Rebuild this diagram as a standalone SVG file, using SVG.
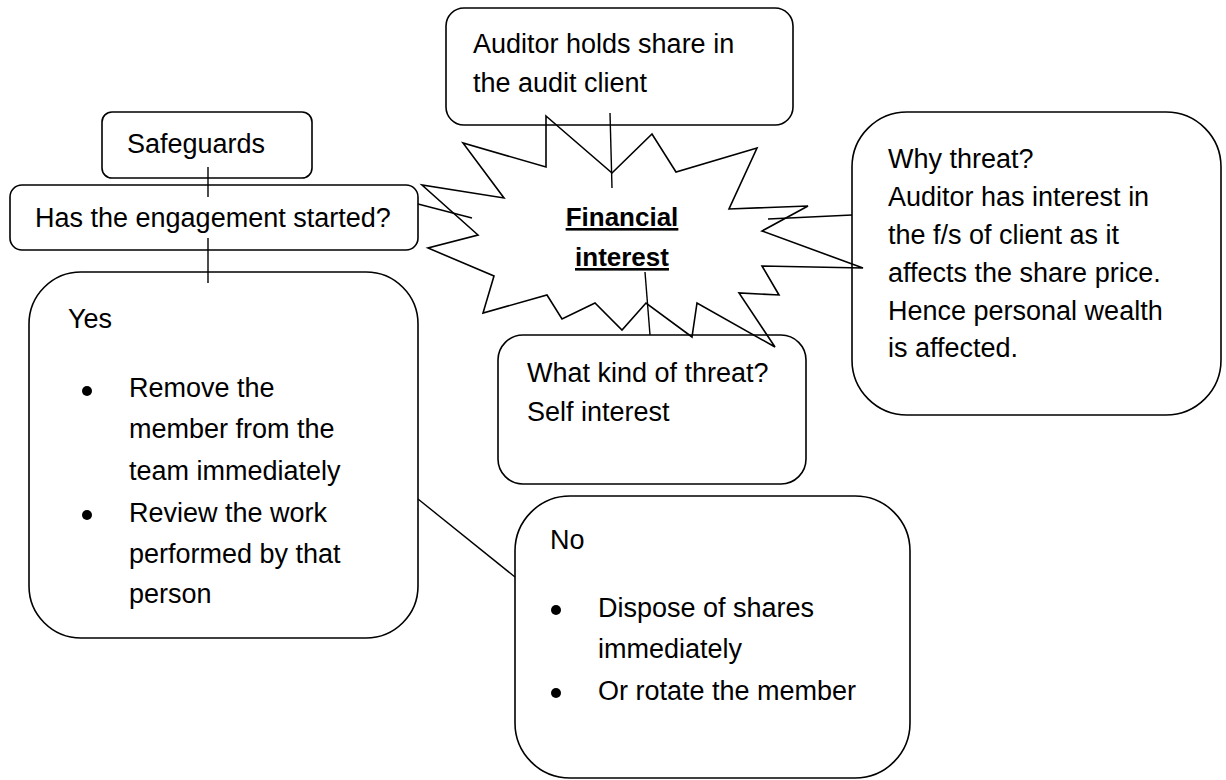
<svg xmlns="http://www.w3.org/2000/svg" width="1226" height="780" viewBox="0 0 1226 780">
  <style>
    .box { fill: none; stroke: #000; stroke-width: 1.6; }
    .burst { fill: none; stroke: #000; stroke-width: 1.6; stroke-linejoin: miter; }
    .link { fill: none; stroke: #000; stroke-width: 1.4; }
    .t { font-family: "Liberation Sans", Arial, sans-serif; font-size: 27px; fill: #000; }
    .title { font-family: "Liberation Sans", Arial, sans-serif; font-size: 26px; font-weight: bold; fill: #000; text-decoration: underline; }
    .dot { fill: #000; }
  </style>
  <rect x="0" y="0" width="1226" height="780" fill="#fff"/>

  <!-- central starburst -->
  <g id="financial-interest">
    <polygon class="burst" points="546,116 612,173 652,134 676,172 757,148 729,209 808,206 762,231 863,268 762,266 779,295 739,293 775,347 697,303 692,337 646,303 622,330 595,303 562,319 547,295 483,313 494,276 428,248 478,235 422,185 504,198 463,143 546,167"/>
    <text class="title" x="622" y="226" text-anchor="middle">Financial</text>
    <text class="title" x="622" y="266" text-anchor="middle">interest</text>
  </g>

  <!-- connectors -->
  <g id="connectors">
    <line class="link" x1="610" y1="113" x2="612" y2="188"/>
    <line class="link" x1="418" y1="204" x2="472" y2="218"/>
    <line class="link" x1="768" y1="219" x2="852" y2="215"/>
    <line class="link" x1="645" y1="272" x2="650" y2="335"/>
    <line class="link" x1="208" y1="167" x2="208" y2="197"/>
    <line class="link" x1="208" y1="238" x2="208" y2="283"/>
    <line class="link" x1="418" y1="499" x2="515" y2="577"/>
  </g>

  <g id="share-holding">
    <rect class="box" x="446" y="8" width="347" height="117" rx="18"/>
    <text class="t" x="473" y="53">Auditor holds share in</text>
    <text class="t" x="473" y="92">the audit client</text>
  </g>

  <g id="safeguards">
    <rect class="box" x="102" y="112" width="210" height="66" rx="10"/>
    <text class="t" x="127" y="153">Safeguards</text>
  </g>

  <g id="engagement">
    <rect class="box" x="10" y="185" width="408" height="65" rx="12"/>
    <text class="t" x="35" y="227">Has the engagement started?</text>
  </g>

  <g id="why-threat">
    <rect class="box" x="852" y="112" width="369" height="303" rx="55"/>
    <text class="t" x="888" y="168">Why threat?</text>
    <text class="t" x="888" y="206">Auditor has interest in</text>
    <text class="t" x="888" y="244">the f/s of client as it</text>
    <text class="t" x="888" y="282">affects the share price.</text>
    <text class="t" x="888" y="320">Hence personal wealth</text>
    <text class="t" x="888" y="357">is affected.</text>
  </g>

  <g id="threat-kind">
    <rect class="box" x="498" y="335" width="308" height="149" rx="25"/>
    <text class="t" x="527" y="382">What kind of threat?</text>
    <text class="t" x="527" y="421">Self interest</text>
  </g>

  <g id="yes">
    <rect class="box" x="29" y="272" width="389" height="366" rx="52"/>
    <text class="t" x="68" y="328">Yes</text>
    <circle class="dot" cx="87" cy="391" r="5"/>
    <text class="t" x="129" y="397">Remove the</text>
    <text class="t" x="129" y="438">member from the</text>
    <text class="t" x="129" y="480">team immediately</text>
    <circle class="dot" cx="87" cy="515" r="5"/>
    <text class="t" x="129" y="522">Review the work</text>
    <text class="t" x="129" y="563">performed by that</text>
    <text class="t" x="129" y="603">person</text>
  </g>

  <g id="no">
    <rect class="box" x="515" y="496" width="395" height="282" rx="55"/>
    <text class="t" x="550" y="549">No</text>
    <circle class="dot" cx="556" cy="610" r="5"/>
    <text class="t" x="598" y="617">Dispose of shares</text>
    <text class="t" x="598" y="658">immediately</text>
    <circle class="dot" cx="556" cy="693" r="5"/>
    <text class="t" x="598" y="700">Or rotate the member</text>
  </g>
</svg>
